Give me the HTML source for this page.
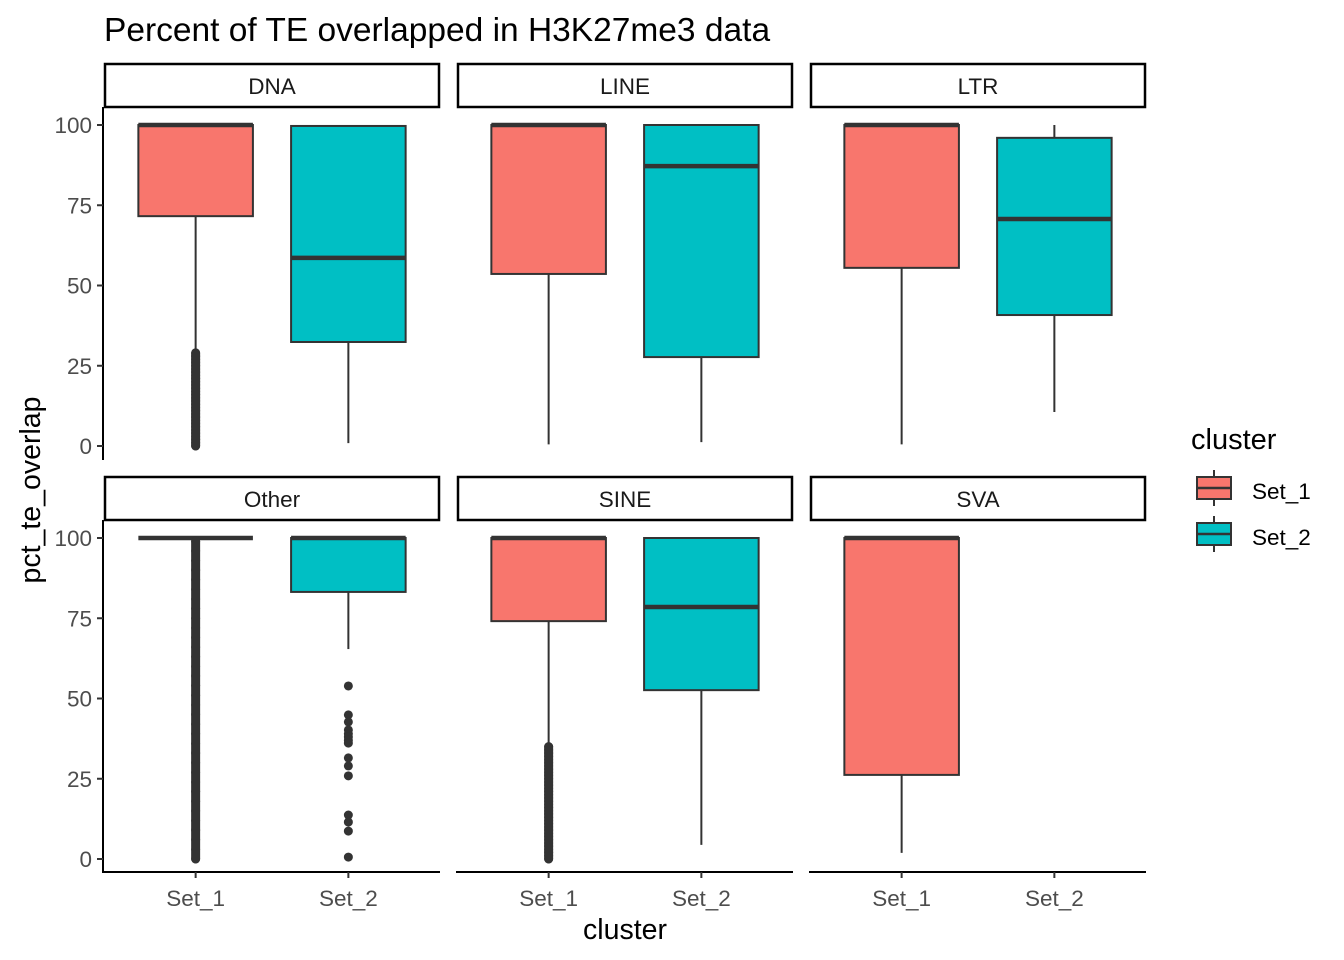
<!DOCTYPE html>
<html><head><meta charset="utf-8"><style>
body{margin:0;background:#fff;}
svg{display:block;font-family:"Liberation Sans",Arial,sans-serif;}
</style></head><body>
<svg id="chart" width="1344" height="960" viewBox="0 0 1344 960">
<text x="104" y="41" font-size="33.5" fill="#000">Percent of TE overlapped in H3K27me3 data</text>
<text transform="translate(40,490) rotate(-90)" text-anchor="middle" font-size="28.5" fill="#000">pct_te_overlap</text>
<text x="625" y="939" text-anchor="middle" font-size="28.5" fill="#000">cluster</text>
<g>
<text x="1191" y="449" font-size="29" fill="#000">cluster</text>
<g>
<line x1="1214" y1="470" x2="1214" y2="506" stroke="#333" stroke-width="2"/>
<rect x="1197" y="477" width="34" height="22" fill="#F8766D" stroke="#333" stroke-width="2"/>
<line x1="1197" y1="488" x2="1231" y2="488" stroke="#333" stroke-width="2.5"/>
<text x="1252" y="499" font-size="22.5" fill="#000">Set_1</text></g>
<g>
<line x1="1214" y1="516" x2="1214" y2="552" stroke="#333" stroke-width="2"/>
<rect x="1197" y="523" width="34" height="22" fill="#00BFC4" stroke="#333" stroke-width="2"/>
<line x1="1197" y1="534" x2="1231" y2="534" stroke="#333" stroke-width="2.5"/>
<text x="1252" y="545" font-size="22.5" fill="#000">Set_2</text></g>
</g>
<g id="panels"></g>
</svg>
<script>
const panelNames = ["DNA","LINE","LTR","Other","SINE","SVA"];
const categories = ["Set_1","Set_2"];
const yTicks = [0,25,50,75,100];
// [lowWhisker, q1, median, q3, highWhisker] per panel per category (null = absent)
const set1Stats = [[29.5,71.6,100,100,100],[0.5,53.6,100,100,100],[0.5,55.5,100,100,100],[100,100,100,100,100],[36.1,74.1,100,100,100],[1.9,26.2,100,100,100]];
const set2Stats = [[0.9,32.4,58.6,99.7,100],[1.2,27.7,87.2,100,100],[10.6,40.8,70.7,96,100],[65.4,83.2,100,100,100],[4.4,52.6,78.5,100,100],null];
const dense0to29 = [0,1,2,3,4,5,6,7,8,9,10,11,12,13,14,15,16,17,18,19,20,21,22,23,24,25,26,27,28,29];
const dense0to35 = [0,1,2,3,4,5,6,7,8,9,10,11,12,13,14,15,16,17,18,19,20,21,22,23,24,25,26,27,28,29,30,31,32,33,34,35];
const dense0to99 = [0,3,6,9,12,15,18,21,24,27,30,33,36,39,42,45,48,51,54,57,60,63,66,69,72,75,78,81,84,87,90,93,96,99];
const set1Outliers = [dense0to29,[],[],dense0to99,dense0to35,[]];
const set2Outliers = [[],[],[],[53.9,44.9,42.7,40.2,39,38,37,36.1,31.5,29,25.9,13.7,11.5,8.7,0.6],[],[]];

const NS="http://www.w3.org/2000/svg";
const g=document.getElementById('panels');
function mk(tag,attrs,parent){const e=document.createElementNS(NS,tag);for(const k in attrs)e.setAttribute(k,attrs[k]);(parent||g).appendChild(e);return e;}
const colX=[104,457,810], rowTop=[107,520], pw=336;
const fills=["#F8766D","#00BFC4"];
panelNames.forEach((name,i)=>{
  const col=i%3,row=Math.floor(i/3);
  const x0=colX[col], top=rowTop[row];
  const y=v=>top+18+(100-v)/100*321;
  const xs=c=>x0+(0.6+c)*pw/2.2;
  const bw=0.75*pw/2.2;
  const pg=mk('g',{});
  
  
  const st=mk('rect',{x:x0+1,y:top-43,width:pw-2,height:43,fill:'#fff',stroke:'#000','stroke-width':2.5},pg);
  
  
  const stt=mk('text',{x:x0+pw/2,y:top-13,'text-anchor':'middle','font-size':22.5,fill:'#1a1a1a'},pg);
  stt.textContent=name;
  
  
  if(col===0){
    const ax=mk('line',{x1:x0-1,y1:top,x2:x0-1,y2:top+353,stroke:'#000','stroke-width':2},pg);
    
    
    yTicks.forEach(t=>{
      mk('line',{x1:x0-7,x2:x0-1,y1:y(t),y2:y(t),stroke:'#333','stroke-width':2},pg);
      const tl=mk('text',{x:x0-12,y:y(t)+8,'text-anchor':'end','font-size':22.5,fill:'#4d4d4d'},pg);
      tl.textContent=t;
      
      
    });
  }
  if(row===1){
    const xa=mk('line',{x1:x0-1,y1:872,x2:x0+pw,y2:872,stroke:'#000','stroke-width':2},pg);
    
    
    categories.forEach((c,ci)=>{
      mk('line',{x1:xs(ci),x2:xs(ci),y1:872,y2:878,stroke:'#333','stroke-width':2},pg);
      const tl=mk('text',{x:xs(ci),y:906,'text-anchor':'middle','font-size':22.5,fill:'#4d4d4d'},pg);
      tl.textContent=c;
      
      
    });
  }
  [set1Stats[i],set2Stats[i]].forEach((s,ci)=>{
    if(!s) return;
    const cx=xs(ci);
    const bg=mk('g',{},pg);
    
    
    mk('line',{x1:cx,x2:cx,y1:y(s[0]),y2:y(s[1]),stroke:'#333','stroke-width':2},bg);
    mk('line',{x1:cx,x2:cx,y1:y(s[3]),y2:y(s[4]),stroke:'#333','stroke-width':2},bg);
    mk('rect',{x:cx-bw/2,y:y(s[3]),width:bw,height:Math.max(0,y(s[1])-y(s[3])),fill:fills[ci],stroke:'#333','stroke-width':2},bg);
    mk('line',{x1:cx-bw/2,x2:cx+bw/2,y1:y(s[2]),y2:y(s[2]),stroke:'#333','stroke-width':4.5},bg);
    const outs=ci===0?set1Outliers[i]:set2Outliers[i];
    outs.forEach(v=>{
      const p=mk('circle',{cx:cx,cy:y(v),r:4.5,fill:'#333'},bg);
      
      
    });
    if(outs.length>20){
      const lo=Math.min(...outs),hi=Math.max(...outs);
      mk('line',{x1:cx,x2:cx,y1:y(lo),y2:y(hi),stroke:'#333','stroke-width':9,'stroke-linecap':'round'},bg);
    }
  });
});
</script>
</body></html>
